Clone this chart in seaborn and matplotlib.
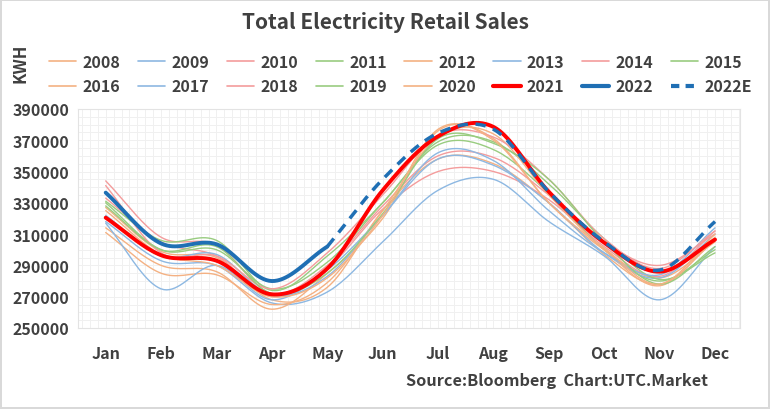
import numpy as np
import pandas as pd
import matplotlib
matplotlib.use("Agg")
import matplotlib.pyplot as plt
from matplotlib.ticker import MultipleLocator
from matplotlib.lines import Line2D
import seaborn as sns

months = ["Jan", "Feb", "Mar", "Apr", "May", "Jun", "Jul", "Aug", "Sep", "Oct", "Nov", "Dec"]
yticks = [250000, 270000, 290000, 310000, 330000, 350000, 370000, 390000]

y2008 = [327000, 299000, 295000, 268000, 276000, 325000, 358000, 355000, 330000, 297000, 278000, 306000]
y2009 = [318000, 293000, 290000, 266000, 273000, 305000, 338000, 345000, 318000, 296000, 268000, 302000]
y2010 = [333000, 305000, 296000, 270000, 288000, 326000, 350000, 350000, 332000, 302000, 283000, 312000]
y2011 = [330000, 300000, 300000, 275000, 292000, 330000, 367000, 364000, 336000, 300000, 280000, 300000]
y2012 = [314000, 290000, 286000, 262000, 285000, 320000, 376000, 371000, 330000, 300000, 282000, 305000]
y2013 = [322000, 296000, 297000, 271000, 283000, 322000, 358000, 354000, 330000, 298000, 282000, 310000]
y2014 = [344000, 308000, 303000, 272000, 290000, 328000, 360000, 359000, 335000, 305000, 290000, 310000]
y2015 = [331000, 306000, 306000, 274000, 296000, 330000, 369000, 369000, 342000, 307000, 281000, 298000]
y2016 = [311000, 285000, 284000, 265000, 279000, 325000, 372000, 374000, 335000, 300000, 277000, 308000]
y2017 = [317000, 275000, 290000, 268000, 287000, 322000, 362000, 357000, 325000, 298000, 284000, 314000]
y2018 = [341000, 298000, 296000, 275000, 298000, 335000, 373000, 372000, 345000, 307000, 288000, 312000]
y2019 = [328000, 300000, 302000, 272000, 285000, 323000, 371000, 368000, 345000, 305000, 278000, 302000]
y2020 = [325000, 297000, 290000, 270000, 282000, 322000, 377000, 370000, 330000, 301000, 278000, 310000]
y2021 = [320500, 296500, 293000, 271500, 288000, 338000, 372500, 378500, 337000, 304500, 286000, 306500]
y2022 = [336500, 304000, 303500, 280000, 302000]
y2022E_months = ["May", "Jun", "Jul", "Aug", "Sep", "Oct", "Nov", "Dec"]
y2022E = [302000, 345000, 374500, 377000, 337000, 305000, 287000, 318000]

thin_series = [
    ("2008", y2008), ("2009", y2009), ("2010", y2010), ("2011", y2011),
    ("2012", y2012), ("2013", y2013), ("2014", y2014), ("2015", y2015),
    ("2016", y2016), ("2017", y2017), ("2018", y2018), ("2019", y2019),
    ("2020", y2020),
]
cycle = ["#F4B183", "#8DB8E2", "#F49C9C", "#99CC80"]


def smooth(xs, ys, n=20):
    """Catmull-Rom rendering of a line through the given points (Excel 'smoothed line' look)."""
    xs = np.asarray(xs, float)
    ys = np.asarray(ys, float)
    px = np.concatenate([[2 * xs[0] - xs[1]], xs, [2 * xs[-1] - xs[-2]]])
    py = np.concatenate([[2 * ys[0] - ys[1]], ys, [2 * ys[-1] - ys[-2]]])
    ox, oy = [], []
    t = np.linspace(0, 1, n, endpoint=False)
    for i in range(1, len(px) - 2):
        for arr, out in ((px, ox), (py, oy)):
            p0, p1, p2, p3 = arr[i - 1], arr[i], arr[i + 1], arr[i + 2]
            out.extend(0.5 * ((2 * p1) + (-p0 + p2) * t + (2 * p0 - 5 * p1 + 4 * p2 - p3) * t ** 2
                              + (-p0 + 3 * p1 - 3 * p2 + p3) * t ** 3))
    ox.append(xs[-1])
    oy.append(ys[-1])
    return np.array(ox), np.array(oy)


def frame(label, mnames, vals):
    xs = [months.index(m) for m in mnames]
    sx, sy = smooth(xs, vals)
    return pd.DataFrame({"x": sx, "y": sy, "series": label})


sns.set_theme(style="white")
plt.rcParams["font.family"] = ["Noto Sans CJK SC", "DejaVu Sans"]
txt = "#404040"

fig = plt.figure(figsize=(7.7, 4.1), dpi=100)
fig.patch.set_edgecolor("#d9d9d9")
fig.patch.set_linewidth(1.5)
ax = fig.add_axes([0.1013, 0.1976, 0.8597, 0.5343])

for i, (lab, vals) in enumerate(thin_series):
    df = frame(lab, months, vals)
    sns.lineplot(data=df, x="x", y="y", ax=ax, color=cycle[i % 4], linewidth=1.0,
                 sort=False, estimator=None, legend=False)

df21 = frame("2021", months, y2021)
sns.lineplot(data=df21, x="x", y="y", ax=ax, color="#FF0000", linewidth=2.8,
             sort=False, estimator=None, legend=False)
df22 = frame("2022", months[:len(y2022)], y2022)
sns.lineplot(data=df22, x="x", y="y", ax=ax, color="#1F6FB4", linewidth=2.8,
             sort=False, estimator=None, legend=False)
df22e = frame("2022E", y2022E_months, y2022E)
sns.lineplot(data=df22e, x="x", y="y", ax=ax, color="#1F6FB4", linewidth=2.5,
             sort=False, estimator=None, legend=False, linestyle=(0, (3, 2.2)))

handles = [Line2D([], [], color=cycle[i % 4], lw=1.2) for i in range(len(thin_series))]
handles += [Line2D([], [], color="#FF0000", lw=3),
            Line2D([], [], color="#1F6FB4", lw=3),
            Line2D([], [], color="#1F6FB4", lw=3, linestyle=(0, (2, 1.5)))]
labels = [s[0] for s in thin_series] + ["2021", "2022", "2022E"]
# reorder so that the column-major legend fill reads row by row
order = [i + 8 * r for i in range(8) for r in range(2)]
leg = fig.legend([handles[k] for k in order], [labels[k] for k in order], ncol=8, loc="center",
                 bbox_to_anchor=(0.52, 0.817), frameon=False, handlelength=1.7,
                 handletextpad=0.4, columnspacing=1.1, labelspacing=0.55,
                 prop={"size": 11.5, "weight": "bold"})
for t in leg.get_texts():
    t.set_color(txt)

ax.set_xlim(-0.5, 11.45)
ax.set_ylim(250000, 390000)
ax.set_xticks(range(12))
ax.set_xticklabels(months)
ax.set_yticks(yticks)
ax.set_yticklabels([str(v) for v in yticks])
ax.yaxis.set_minor_locator(MultipleLocator(5000))
ax.xaxis.set_minor_locator(MultipleLocator(1 / 7))
ax.grid(True, which="both", color="#f0f0f0", linewidth=0.7)
ax.set_axisbelow(True)
for s in ax.spines.values():
    s.set_color("#e3e3e3")
    s.set_linewidth(0.8)
ax.tick_params(axis="both", which="both", length=0, labelsize=11.5, colors=txt, pad=6)
ax.tick_params(axis="x", pad=12)
for lbl in ax.get_xticklabels() + ax.get_yticklabels():
    lbl.set_fontweight("bold")
ax.set_xlabel("")
ax.set_ylabel("")

fig.text(0.5, 0.945, "Total Electricity Retail Sales", ha="center", va="center",
         fontsize=15, fontweight="bold", color=txt)
fig.text(0.027, 0.845, "KWH", rotation=90, ha="center", va="center",
         fontsize=12, fontweight="bold", color=txt)
fig.text(0.92, 0.07, "Source:Bloomberg  Chart:UTC.Market", ha="right", va="center",
         fontsize=11.7, fontweight="bold", color=txt)

fig.savefig("out.png", dpi=100)
